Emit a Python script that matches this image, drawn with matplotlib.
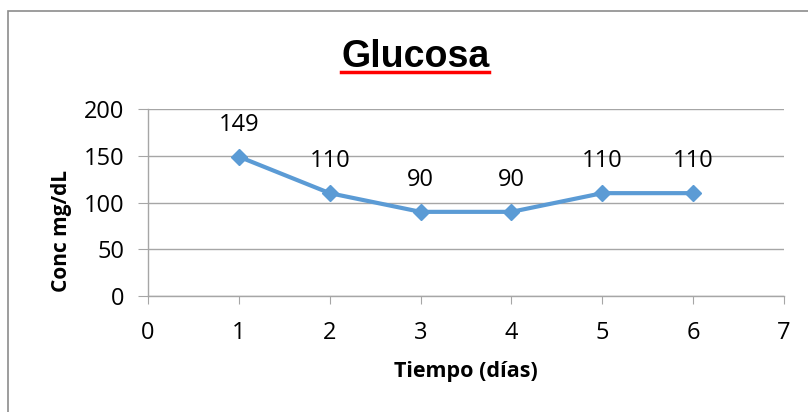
import matplotlib
matplotlib.use("Agg")
import matplotlib.pyplot as plt
from matplotlib.patches import Rectangle
from matplotlib.lines import Line2D

# data
dias = [1, 2, 3, 4, 5, 6]
glucosa = [149, 110, 90, 90, 110, 110]
x_ticks = [0, 1, 2, 3, 4, 5, 6, 7]
y_ticks = [0, 50, 100, 150, 200]

W, H = 808, 412
BLUE = "#5b9bd5"
GRIDC = "#a6a6a6"
TXT = "#000000"
FONT = ["Open Sans", "DejaVu Sans"]

fig = plt.figure(figsize=(W / 100, H / 100), dpi=100, facecolor="white")

# outer chart frame (runs off the right/bottom edge like the screenshot)
fig.patches.append(Rectangle((8 / W, -0.1), 1.2, 1 - 11 / H + 0.1,
                             transform=fig.transFigure, fill=False,
                             edgecolor="#8c8c8c", linewidth=1.2))

ax = fig.add_axes([148 / W, 1 - 296 / H, (784 - 148) / W, (296 - 109) / H])
ax.set_xlim(0, 7)
ax.set_ylim(0, 200)
ax.set_xticks(x_ticks)
ax.set_yticks(y_ticks)
ax.grid(True, axis="y", color=GRIDC, linewidth=1)
ax.set_axisbelow(True)
for s in ["top", "right"]:
    ax.spines[s].set_visible(False)
ax.spines["left"].set_color(GRIDC)
ax.spines["bottom"].set_color(GRIDC)
ax.spines["left"].set_linewidth(1)
ax.spines["bottom"].set_linewidth(1)
ax.tick_params(axis="x", direction="out", length=6, color=GRIDC, pad=12,
               labelsize=17)
ax.tick_params(axis="y", direction="out", length=7, color=GRIDC, pad=10,
               labelsize=17)
for lab in ax.get_xticklabels() + ax.get_yticklabels():
    lab.set_family(FONT)
    lab.set_color(TXT)

ax.plot(dias, glucosa, color=BLUE, linewidth=3, marker="D", markersize=8,
        markeredgecolor=BLUE, markerfacecolor=BLUE, clip_on=False, zorder=3)
for xv, yv in zip(dias, glucosa):
    ax.annotate(f"{yv}", (xv, yv), xytext=(0, 23), textcoords="offset points",
                ha="center", va="center", fontsize=17, family=FONT, color=TXT)

fig.text(466 / W, 1 - 372 / H, "Tiempo (días)", ha="center", va="center",
         fontsize=15.5, fontweight="bold", family=FONT)
fig.text(62 / W, 1 - 231 / H, "Conc mg/dL", rotation=90, ha="center",
         va="center", fontsize=15, fontweight="bold", family=FONT)

# title with red underline
fig.text(416 / W, 1 - 67 / H, "Glucosa", ha="center", va="baseline",
         fontsize=27, fontweight="bold", family=["Liberation Sans", "DejaVu Sans"])
fig.add_artist(Line2D([341 / W, 489 / W], [1 - 72 / H, 1 - 72 / H],
                      transform=fig.transFigure, color="#ff0000", linewidth=2.5))

fig.savefig("out.png", dpi=100, facecolor="white")
